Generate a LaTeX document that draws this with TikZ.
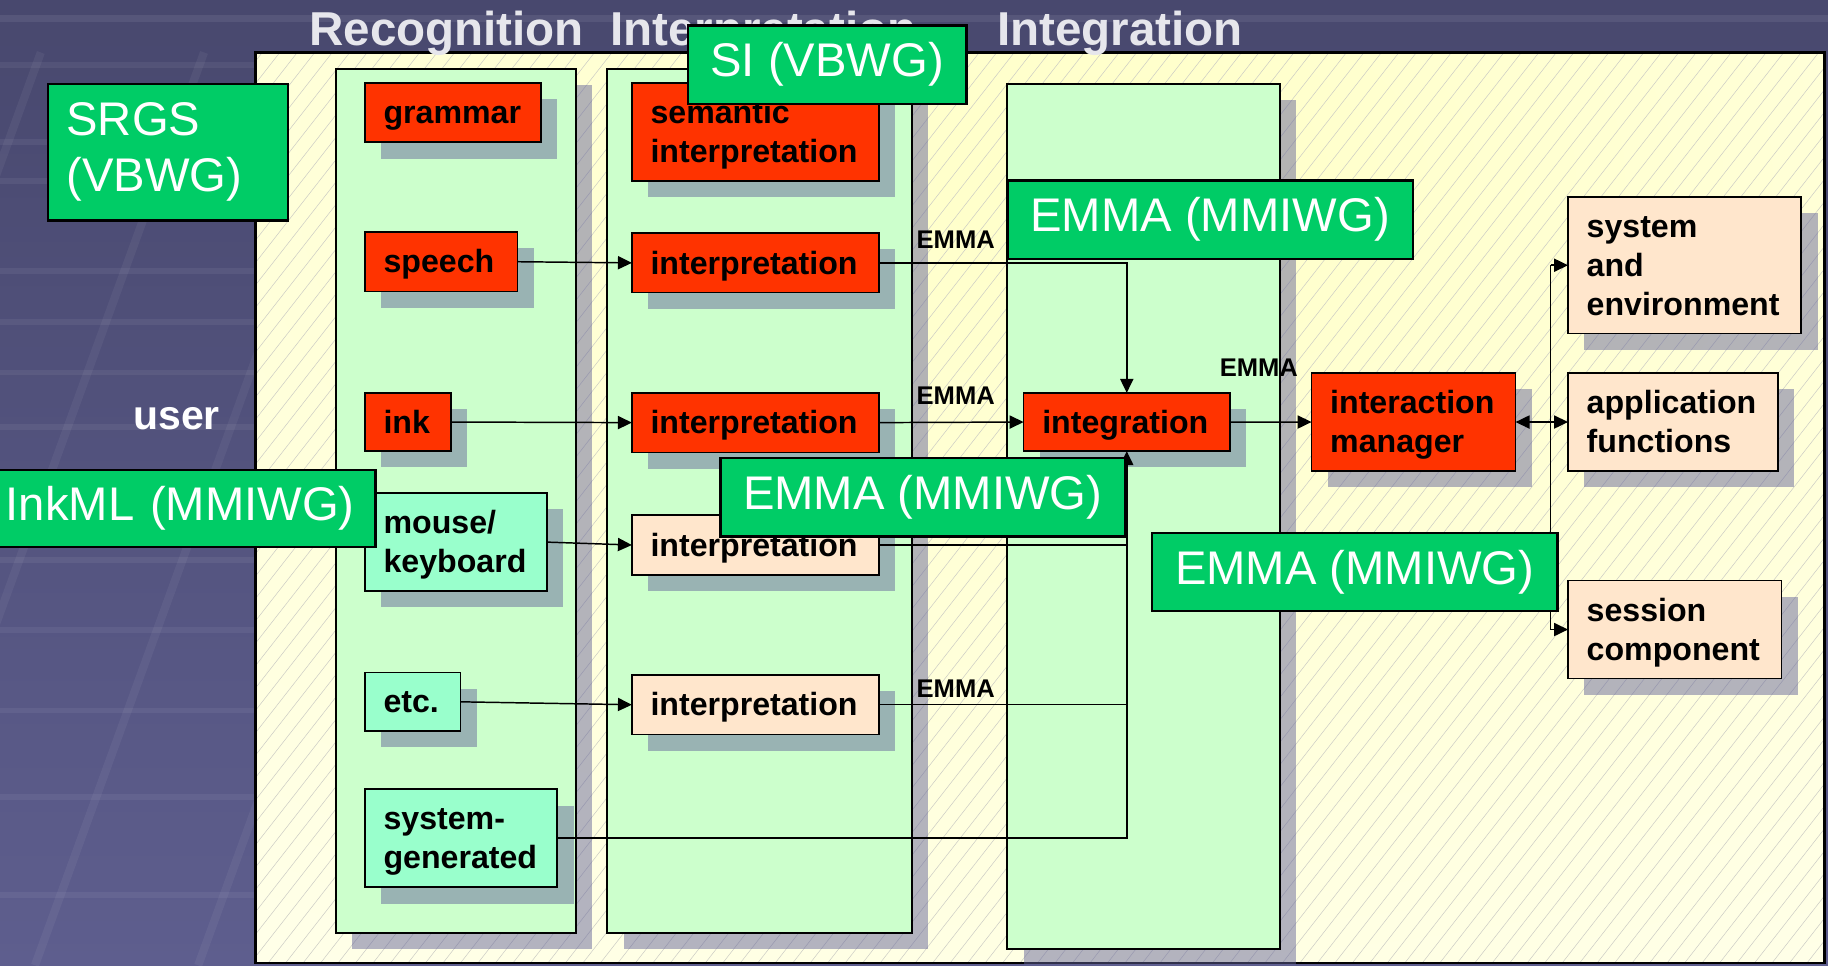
\documentclass[tikz,border=0pt]{standalone}
\usepackage{fontspec}
\setmainfont{Liberation Sans}
\usetikzlibrary{arrows.meta}

\definecolor{bgtop}{HTML}{48486E}
\definecolor{bgbot}{HTML}{5E5E8E}
\definecolor{redc}{HTML}{FF3300}
\definecolor{peachc}{HTML}{FFE6CC}
\definecolor{aquac}{HTML}{99FFCC}
\definecolor{colgreen}{HTML}{CCFFCC}
\definecolor{specgreen}{HTML}{00CC66}
\definecolor{shadowc}{RGB}{100,100,153}
\definecolor{panelpale}{HTML}{FFFFF5}
\definecolor{panelyel}{HTML}{FFFFC8}
\definecolor{titlec}{HTML}{E6E6EC}
\definecolor{hatchc}{HTML}{CBCBC4}

% line box of the card font: full ascent and descent
\newcommand\cardstrut{\rule[-0.212em]{0pt}{1.117em}}

\tikzset{
  shd/.style={fill=shadowc, fill opacity=0.49},
  card/.style={draw=black, line width=1pt, outer sep=0pt,
    font=\bfseries\fontsize{19.6pt}{23.8pt}\selectfont,
    align=left, inner xsep=0.4cm, inner ysep=0pt,
    execute at begin node={\hyphenpenalty=10000 \cardstrut},
    execute at end node={\cardstrut}},
  redcard/.style={card, fill=redc},
  peachcard/.style={card, fill=peachc},
  aquacard/.style={card, fill=aquac},
  column/.style={draw=black, line width=1.1pt, fill=colgreen, inner sep=0pt, outer sep=0pt},
  spec/.style={draw=black, line width=1.5pt, fill=specgreen, text=white, outer sep=0pt,
    font=\fontsize{28.8pt}{34pt}\selectfont, inner sep=0pt},
  flow/.style={line width=0.9pt, ->},
  wire/.style={line width=0.9pt},
  emma/.style={font=\bfseries\fontsize{15.6pt}{18pt}\selectfont, anchor=base west, inner sep=0pt},
  heading/.style={font=\bfseries\fontsize{29pt}{34pt}\selectfont, text=titlec, anchor=base west, inner sep=0pt},
}

% card with drop shadow: name, style, x1, y1, x2, y2, text
\newcommand\mkcard[7]{%
  \fill[shd] (#3+14,#4+14) rectangle (#5+14,#6+14);
  \pgfmathsetmacro\cw{(#5-#3)*0.025}%
  \pgfmathsetmacro\ch{(#6-#4)*0.025}%
  \pgfmathsetmacro\tw{\cw-0.8}%
  \node[#2, anchor=north west, minimum width=\cw cm, minimum height=\ch cm, text width=\tw cm] (#1) at (#3,#4) {#7};
}
% column with drop shadow: name, x1, y1, x2, y2
\newcommand\mkcol[5]{%
  \fill[shd] (#2+14,#3+14) rectangle (#4+14,#5+14);
  \pgfmathsetmacro\cw{(#4-#2)*0.025}%
  \pgfmathsetmacro\ch{(#5-#3)*0.025}%
  \node[column, anchor=north west, minimum width=\cw cm, minimum height=\ch cm] (#1) at (#2,#3) {};
}
% specification label: name, x1, y1, x2, y2, options, text
\newcommand\mkspec[7]{%
  \pgfmathsetmacro\cw{(#4-#2)*0.025}%
  \pgfmathsetmacro\ch{(#5-#3)*0.025}%
  \node[spec, anchor=north west, minimum width=\cw cm, minimum height=\ch cm, #6] (#1) at (#2,#3) {#7};
}

\begin{document}
\begin{tikzpicture}[x=0.025cm, y=-0.025cm, >={Triangle[length=8.5pt,width=8pt]}]
\useasboundingbox (0,0) rectangle (1568,828);

% slide background with faint texture
\shade[top color=bgtop, bottom color=bgbot] (0,0) rectangle (1568,828);
\fill[white, opacity=0.08] (0,13) rectangle (1568,19);
\foreach \yy in {53,119,153,230,274,317,364,478,538,607,681,765}
  \fill[white, opacity=0.06] (0,\yy) rectangle (219,\yy+5);
\foreach \xx in {-250,-110,30,170}
  \draw[white, opacity=0.05, line width=5pt] (\xx,828) -- (\xx+285,45);

% main panel: yellow wash with fine diagonal hatching
\begin{scope}
  \clip (219,45) rectangle (1565,826);
  \fill[panelpale] (219,45) rectangle (1565,826);
  \shade[inner color=panelyel, outer color=panelpale] (950,150) ellipse (1900 and 1100);
  \foreach \i in {-400,-385,...,1570}
    \draw[hatchc, line width=0.3pt] (\i,826) -- (\i+610,45);
\end{scope}
\draw[line width=1.5pt] (219,45) rectangle (1565,826);

% column headings
\node[heading] (hRec) at (265,39) {Recognition};
\node[heading] (hInt) at (523,39) {Interpretation};
\node[heading] (hIntg) at (855,39) {Integration};

% processing columns
\mkcol{col1}{288}{59}{494}{800}
\mkcol{col2}{521}{59}{782}{800}
\mkcol{col3}{864}{72}{1098}{814}

% recognition
\mkcard{grammar}{redcard}{313}{71}{464}{122}{grammar}
\mkcard{speech}{redcard}{313}{199}{444}{250}{speech}
\mkcard{ink}{redcard}{313}{337}{387}{387}{ink}
\mkcard{mouse}{aquacard}{313}{423}{469}{507}{mouse/\\keyboard}
\mkcard{etc}{aquacard}{313}{577}{395}{627}{etc.}
\mkcard{sysgen}{aquacard}{313}{677}{478}{761}{system-\\generated}

% interpretation
\mkcard{semint}{redcard}{542}{71}{754}{155}{semantic\\interpretation}
\mkcard{interpA}{redcard}{542}{200}{754}{251}{interpretation}
\mkcard{interpB}{redcard}{542}{337}{754}{388}{interpretation}
\mkcard{interpC}{peachcard}{542}{442}{754}{493}{interpretation}
\mkcard{interpD}{peachcard}{542}{579}{754}{630}{interpretation}

% integration and beyond
\mkcard{integ}{redcard}{878}{337}{1055}{387}{integration}
\mkcard{im}{redcard}{1125}{320}{1300}{404}{interaction\\manager}
\mkcard{sysenv}{peachcard}{1345}{169}{1545}{286}{system\\and\\environment}
\mkcard{appfn}{peachcard}{1345}{320}{1525}{404}{application\\functions}
\mkcard{session}{peachcard}{1345}{498}{1528}{582}{session\\component}

% data flow
\draw[flow] (speech.east) -- (interpA.west);
\draw[flow] (ink.east) -- (interpB.west);
\draw[flow] (mouse.east) -- (interpC.west);
\draw[flow] (etc.east) -- (interpD.west);
\draw[flow] (interpA.east) -| (integ.north);
\draw[flow] (interpB.east) -- (integ.west);
\draw[wire] (interpC.east) -- (interpC.east -| integ.south);
\draw[wire] (interpD.east) -- (interpD.east -| integ.south);
\draw[flow] (sysgen.east) -| (integ.south);
\draw[flow] (integ.east) -- (im.west);
\draw[line width=0.9pt, <->] (im.east) -- (appfn.west);
\coordinate (bus) at (1330,362);
\draw[wire] (bus |- sysenv.west) -- (bus |- session.west);
\draw[flow] (bus |- sysenv.west) -- (sysenv.west);
\draw[flow] (bus |- session.west) -- (session.west);

% format labels on the links
\node[emma] (emA) at (786,213) {EMMA};
\node[emma] (emB) at (786,347) {EMMA};
\node[emma] (emC) at (1046,323) {EMMA};
\node[emma] (emD) at (786,598) {EMMA};

\node[font=\bfseries\fontsize{25pt}{30pt}\selectfont, text=white, anchor=base west, inner sep=0pt] (user) at (114,368) {user};

% specifications and working groups
\mkspec{srgs}{41}{72}{247}{189}{align=left, inner xsep=0.4cm, text width=4.35cm}{SRGS\\(VBWG)}
\mkspec{si}{590}{22}{829}{89}{align=center}{SI (VBWG)}
\mkspec{emmaA}{864}{155}{1212}{222}{align=center}{EMMA (MMIWG)}
\mkspec{emmaB}{618}{393}{965}{460}{align=center}{EMMA (MMIWG)}
\mkspec{emmaC}{988}{457}{1336}{524}{align=center}{EMMA (MMIWG)}
\mkspec{inkml}{-2}{403}{322}{469}{align=left, inner xsep=0.175cm, text width=7.75cm}{InkML (MMIWG)}
\end{tikzpicture}
\end{document}
